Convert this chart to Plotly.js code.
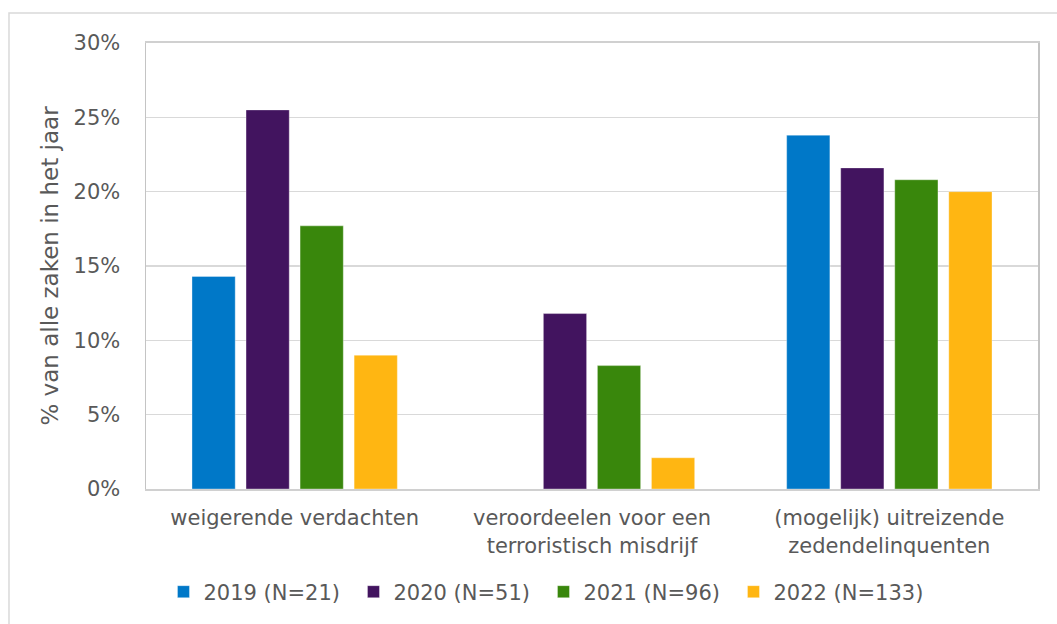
<!DOCTYPE html>
<html>
<head>
<meta charset="utf-8">
<script src="https://cdn.plot.ly/plotly-3.0.1.min.js"></script>
<style>
  html, body { margin: 0; padding: 0; background: #ffffff; }
  #chart { width: 1057px; height: 624px; }
</style>
</head>
<body>
<div id="chart"></div>
<script>
// Categories (x-axis tick labels)
const categories = [
  "weigerende verdachten",
  "veroordeelen voor een<br>terroristisch misdrijf",
  "(mogelijk) uitreizende<br>zedendelinquenten"
];

// Series names (legend)
const seriesNames = ["2019 (N=21)", "2020 (N=51)", "2021 (N=96)", "2022 (N=133)"];

// Series values (% of all cases in the year)
const values2019 = [14.3, 0, 23.8];
const values2020 = [25.5, 11.8, 21.6];
const values2021 = [17.7, 8.3, 20.8];
const values2022 = [9.0, 2.1, 20.0];

// Y-axis ticks
const yTickValues = [0, 5, 10, 15, 20, 25, 30];
const yTickLabels = ["0%", "5%", "10%", "15%", "20%", "25%", "30%"];

const seriesColors = ["#0078C8", "#42145F", "#39870C", "#FFB612"];
const allValues = [values2019, values2020, values2021, values2022];

const textColor = "#595959";
const fontFamily = "'DejaVu Sans', Verdana, sans-serif";

const traces = allValues.map((vals, i) => ({
  type: "bar",
  name: seriesNames[i],
  x: categories,
  y: vals,
  marker: {
    color: seriesColors[i],
    line: { color: "rgba(255,255,255,0.35)", width: 1 }
  },
  hoverinfo: "skip"
}));

const layout = {
  width: 1057,
  height: 624,
  margin: { l: 146, r: 19, t: 43, b: 135 },
  paper_bgcolor: "#ffffff",
  plot_bgcolor: "#ffffff",
  font: { family: fontFamily, size: 21, color: textColor },
  barmode: "group",
  bargap: 0.273,
  bargroupgap: 0.2,
  showlegend: true,
  legend: {
    orientation: "h",
    x: 0.4456,
    xanchor: "center",
    y: -0.231,
    yanchor: "middle",
    font: { family: fontFamily, size: 21, color: textColor },
    itemwidth: 30,
    entrywidth: 145,
    bgcolor: "rgba(0,0,0,0)"
  },
  xaxis: {
    type: "category",
    showgrid: false,
    showline: true,
    linecolor: "#d0d0d0",
    linewidth: 2,
    mirror: true,
    ticks: "",
    ticklabelstandoff: 9,
    tickfont: { family: fontFamily, size: 21, color: textColor },
    fixedrange: true
  },
  yaxis: {
    range: [0, 30],
    tickvals: yTickValues,
    ticktext: yTickLabels,
    showgrid: true,
    gridcolor: "#d9d9d9",
    gridwidth: 1.5,
    zeroline: false,
    showline: true,
    linecolor: "#c4c4c4",
    linewidth: 1.5,
    mirror: true,
    ticks: "",
    ticklabelstandoff: 20,
    tickfont: { family: fontFamily, size: 21, color: textColor },
    title: {
      text: "% van alle zaken in het jaar",
      font: { family: fontFamily, size: 23, color: textColor },
      standoff: 8
    },
    fixedrange: true
  },
  shapes: [
    {
      type: "rect",
      xref: "paper",
      yref: "paper",
      x0: -0.1536,
      x1: 1.035,
      y0: -0.35,
      y1: 1.0673,
      line: { color: "#d9d9d9", width: 1.5 },
      fillcolor: "rgba(0,0,0,0)",
      layer: "below"
    }
  ]
};

Plotly.newPlot("chart", traces, layout, { displayModeBar: false, staticPlot: true });
</script>
</body>
</html>
